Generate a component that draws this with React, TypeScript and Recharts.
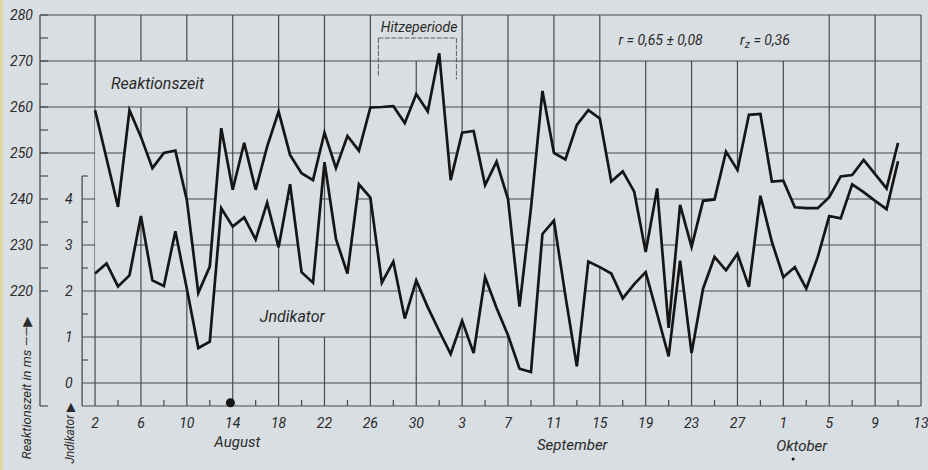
import React from 'react';
import {
  ComposedChart,
  Line,
  Area,
  XAxis,
  YAxis,
  ReferenceLine,
  ReferenceDot,
} from 'recharts';

const BG = '#d9dee2';
const INK = '#151515';
const GRID = '#474b4e';
const TEXT = '#2a2a2a';
const FONT = "Roboto, 'DejaVu Sans', sans-serif";

// Reaktionszeit in ms, one value per day from 2. August to 12. Oktober
const reaktionszeit = [
  259.3, 248.8, 238.3, 259.3, 253.5, 246.7, 250.0, 250.5, 239.8, 219.6,
  225.3, 255.4, 242.0, 252.2, 242.0, 251.4, 259.0, 249.6, 245.6, 244.1,
  254.4, 246.7, 253.7, 250.5, 259.9, 260.0, 260.2, 256.5, 262.8, 259.0,
  271.7, 244.1, 254.4, 254.8, 243.0, 248.1, 240.0, 216.6, 238.0, 263.5,
  250.0, 248.6, 256.1, 259.3, 257.5, 243.8, 246.0, 241.6, 228.5, 242.3,
  212.0, 238.7, 229.6, 239.6, 239.9, 250.3, 246.3, 258.3, 258.5, 243.8,
  244.0, 238.2, 238.0, 238.0, 240.4, 244.9, 245.2, 248.5, 245.4, 242.3,
  252.2,
];

// Indikator, same days
const indikator = [
  2.38, 2.6, 2.1, 2.34, 3.63, 2.23, 2.11, 3.3, 2.05, 0.76,
  0.9, 3.8, 3.4, 3.6, 3.12, 3.92, 2.95, 4.32, 2.41, 2.18,
  4.8, 3.13, 2.38, 4.32, 4.03, 2.18, 2.64, 1.4, 2.23, 1.65,
  1.13, 0.63, 1.35, 0.65, 2.3, 1.63, 1.04, 0.31, 0.24, 3.24,
  3.53, 1.9, 0.36, 2.64, 2.52, 2.38, 1.84, 2.15, 2.41, 1.5,
  0.58, 2.66, 0.65, 2.05, 2.74, 2.45, 2.81, 2.09, 4.07, 3.07,
  2.3, 2.52, 2.05, 2.74, 3.63, 3.58, 4.32, 4.15, 3.96, 3.78,
  4.82,
];

// day offsets from 2. August of the grid lines and their date labels
const dayTicks = [0, 4, 8, 12, 16, 20, 24, 28, 32, 36, 40, 44, 48, 52, 56, 60, 64, 68, 72];
const dayTickLabels = ['2', '6', '10', '14', '18', '22', '26', '30', '3', '7', '11', '15', '19', '23', '27', '1', '5', '9', '13'];
const minorDayTicks = [2, 6, 10, 14, 18, 22, 26, 30, 34, 38, 42, 46, 50, 54, 58, 62, 66, 70];

const rtTicks = [195, 220, 225, 230, 235, 240, 245, 250, 255, 260, 265, 270, 275, 280];
const rtUpperLines = [280, 270, 260, 250];
const rtLowerLines = [240, 230, 220, 210, 200, 195];
const indTicks = [0, 1, 2, 3, 4];
const indMinorTicks = [0.5, 1.5, 2.5, 3.5, 4.5];

const X_MIN = -4.8;
const X_MAX = 72;
const IND_AXIS_X = -1.13;

// indicator 0..4 is drawn against 200..240 ms on the shared grid
const data = reaktionszeit.map((rt, i) => ({
  day: i,
  rt,
  ind: indikator[i],
  band: [200 + 10 * indikator[i], rt],
}));

// vertical grid line pieces (ms ranges), gaps where labels sit
function verticalPieces(d: number): [number, number][] {
  if (d === 4 || d === 8) return [[195, 260], [270, 280]];
  if (d === 16 || d === 20) return [[195, 210], [220, 280]];
  if (d === 28 || d === 48 || d === 52 || d === 56 || d === 60) return [[195, 270]];
  return [[195, 280]];
}

const seg = (
  key: string,
  x1: number,
  y1: number,
  x2: number,
  y2: number,
  axis = 'rt',
  stroke = GRID,
  width = 1.2,
  dash?: string,
) => (
  <ReferenceLine
    key={key}
    yAxisId={axis}
    segment={[{ x: x1, y: y1 }, { x: x2, y: y2 }]}
    stroke={stroke}
    strokeWidth={width}
    strokeDasharray={dash}
    ifOverflow="visible"
    zIndex={-50}
  />
);

const textStyle = {
  fill: TEXT,
  fontStyle: 'italic',
  fontFamily: FONT,
};

const note = (key: string, x: number, y: number, value: string, size = 15, angle = 0) => (
  <ReferenceDot
    key={key}
    yAxisId="rt"
    x={x}
    y={y}
    r={0}
    fill="none"
    stroke="none"
    ifOverflow="visible"
    label={{ value, position: 'center', fontSize: size, angle, ...textStyle }}
  />
);

export default function App() {
  return (
    <div
      style={{
        position: 'absolute',
        left: 0,
        top: 0,
        width: 928,
        height: 470,
        background: BG,
        overflow: 'hidden',
      }}
    >
      <div style={{ position: 'absolute', left: 0, top: 0, width: 3, height: 470, background: '#ddd7a2' }} />
      <ComposedChart
        width={928}
        height={470}
        data={data}
        margin={{ top: 15, right: 7, bottom: 34, left: 0 }}
      >
        <XAxis
          dataKey="day"
          type="number"
          domain={[X_MIN, X_MAX]}
          ticks={dayTicks}
          interval={0}
          allowDataOverflow
          tickFormatter={(v: number) => dayTickLabels[dayTicks.indexOf(v)] ?? ''}
          axisLine={false}
          tickLine={false}
          tickSize={0}
          tickMargin={12}
          height={30}
          tick={{ ...textStyle, fontSize: 14 }}
        />
        <YAxis
          yAxisId="rt"
          orientation="left"
          width={40}
          domain={[195, 280]}
          ticks={rtTicks}
          interval={0}
          allowDataOverflow
          tickFormatter={(v: number) => (v >= 220 && v % 10 === 0 ? String(v) : '')}
          tickSize={-8}
          tickMargin={15}
          axisLine={{ stroke: GRID, strokeWidth: 1.3 }}
          tickLine={{ stroke: GRID, strokeWidth: 1.2 }}
          tick={{ ...textStyle, fontSize: 14 }}
        />
        <YAxis
          yAxisId="ind"
          orientation="left"
          mirror
          domain={[-0.5, 8]}
          ticks={indTicks}
          interval={0}
          allowDataOverflow
          axisLine={false}
          tickLine={false}
          tickSize={0}
          tickMargin={25}
          tick={{ ...textStyle, fontSize: 14 }}
        />

        {/* grid */}
        {rtUpperLines.map((v) => seg(`hu${v}`, X_MIN, v, X_MAX, v))}
        {rtLowerLines.map((v) => seg(`hl${v}`, IND_AXIS_X, v, X_MAX, v))}
        {dayTicks.map((d) =>
          verticalPieces(d).map(([a, b], k) => seg(`v${d}-${k}`, d, a, d, b)),
        )}
        {minorDayTicks.map((d) => seg(`mt${d}`, d, 195, d, 196.3))}

        {/* indicator axis */}
        {seg('indAxis', IND_AXIS_X, -0.5, IND_AXIS_X, 4.5, 'ind', GRID, 1.3)}
        {indMinorTicks.map((v) => seg(`it${v}`, IND_AXIS_X, v, IND_AXIS_X + 0.5, v, 'ind'))}

        {/* Hitzeperiode bracket */}
        {seg('hzTop', 24.7, 275, 31.5, 275, 'rt', '#5a5e61', 1, '5 1.5')}
        {seg('hzL', 24.7, 275, 24.7, 266.5, 'rt', '#5a5e61', 1, '5 1.5')}
        {seg('hzR', 31.5, 275, 31.5, 266, 'rt', '#5a5e61', 1, '5 1.5')}

        {/* blank band between the two curves */}
        <Area
          yAxisId="rt"
          dataKey="band"
          type="linear"
          stroke="none"
          fill={BG}
          fillOpacity={1}
          isAnimationActive={false}
          zIndex={-10}
        />

        <Line
          yAxisId="rt"
          dataKey="rt"
          type="linear"
          stroke={INK}
          strokeWidth={2.7}
          dot={false}
          isAnimationActive={false}
        />
        <Line
          yAxisId="ind"
          dataKey="ind"
          type="linear"
          stroke={INK}
          strokeWidth={2.7}
          dot={false}
          isAnimationActive={false}
        />

        <ReferenceDot yAxisId="rt" x={11.8} y={195.7} r={4.5} fill={INK} stroke="none" ifOverflow="visible" />
        <ReferenceDot yAxisId="rt" x={60.85} y={183.5} r={1.5} fill={INK} stroke="none" ifOverflow="visible" />

        {note('rz', 5.45, 265.2, 'Reaktionszeit', 16)}
        {note('ind', 17.2, 214.6, 'Jndikator', 16)}
        {note('hz', 28.25, 277.4, 'Hitzeperiode', 14)}
        {note('r', 49.3, 274.6, 'r = 0,65 ± 0,08', 14)}
        <ReferenceDot
          yAxisId="rt"
          x={58.4}
          y={274.6}
          r={0}
          fill="none"
          stroke="none"
          ifOverflow="visible"
          label={{
            content: (p: any) => {
              const vb = p.viewBox || {};
              return (
                <text
                  x={vb.x}
                  y={vb.y}
                  textAnchor="middle"
                  dominantBaseline="central"
                  fontSize={14}
                  {...textStyle}
                >
                  <tspan>r</tspan>
                  <tspan dy={4} fontSize={11}>z</tspan>
                  <tspan dy={-4}> = 0,36</tspan>
                </text>
              );
            },
          }}
        />
        {note('aug', 12.4, 187.2, 'August', 15)}
        {note('sep', 41.6, 186.5, 'September', 15)}
        {note('okt', 61.6, 186.3, 'Oktober', 15)}
        {note('yl', -6.02, 198.9, 'Reaktionszeit in ms ——▶', 13, -90)}
        {note('il', -2.18, 189.1, 'Jndikator ▶', 12, -90)}
      </ComposedChart>
    </div>
  );
}
